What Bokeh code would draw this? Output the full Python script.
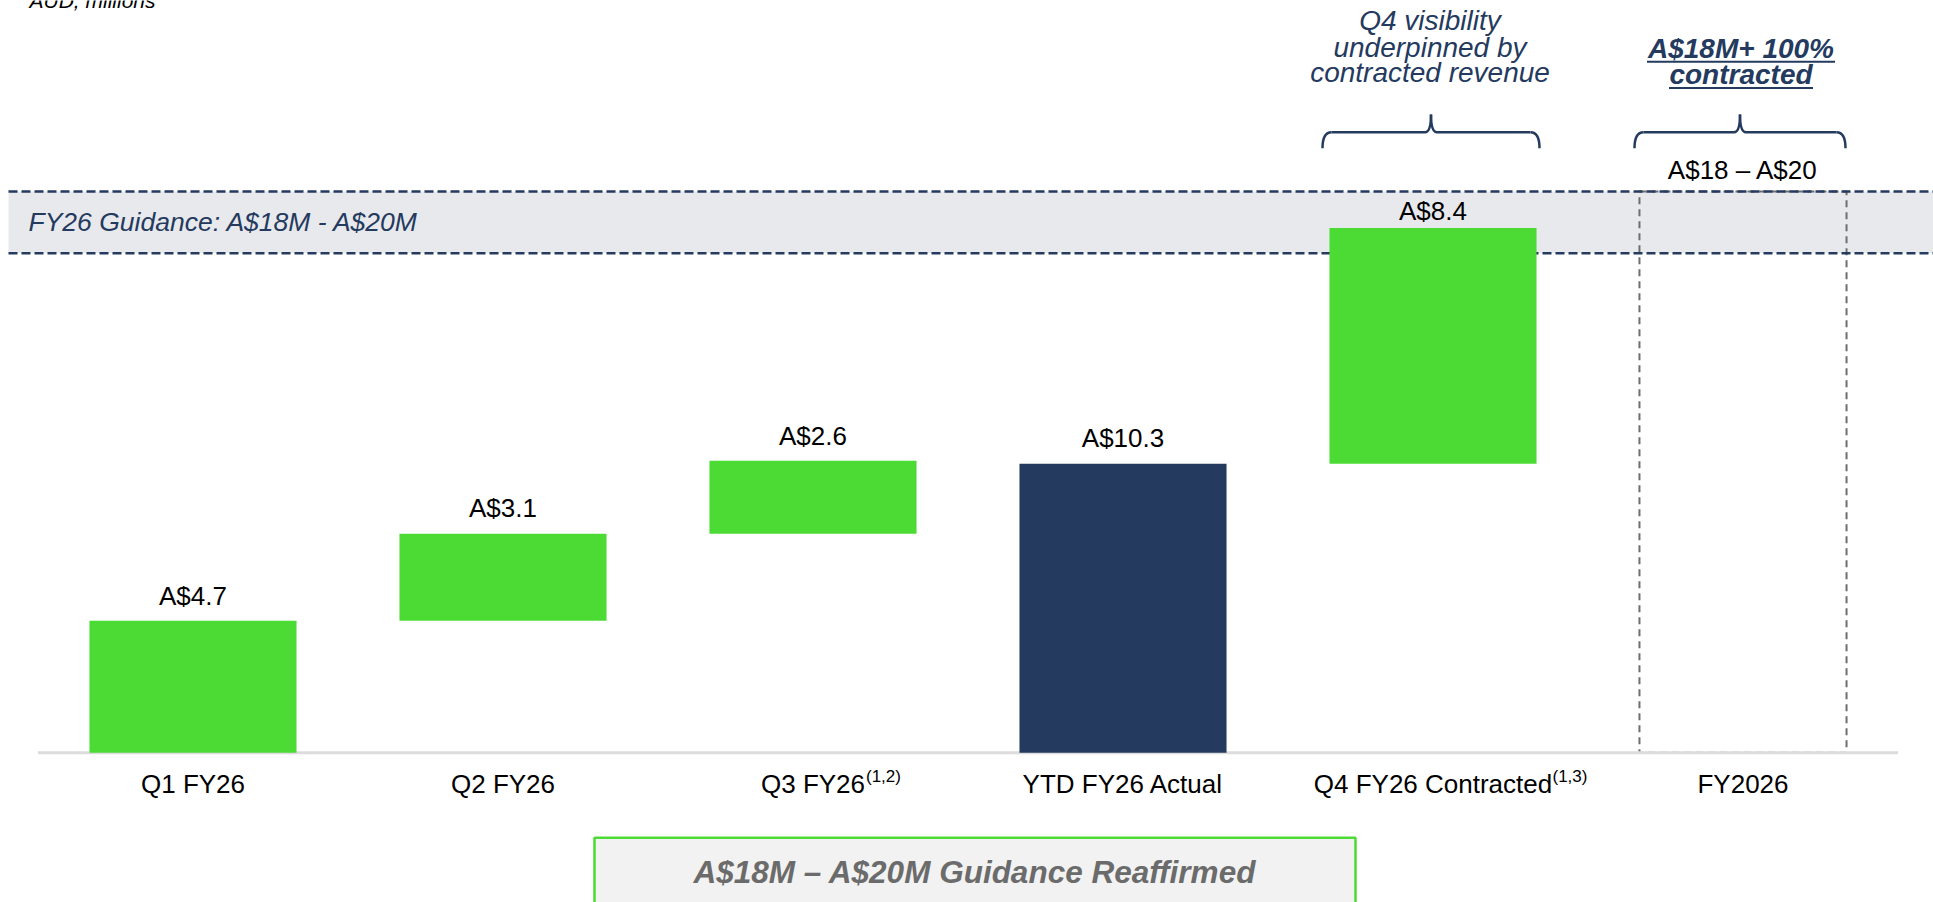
from bokeh.plotting import figure
from bokeh.models import Range1d, ColumnDataSource, BoxAnnotation
from bokeh.core.properties import value
from bokeh.embed import file_html
from bokeh.resources import INLINE

# ---------------- data ----------------
categories = ["Q1 FY26", "Q2 FY26", "Q3 FY26", "YTD FY26 Actual", "Q4 FY26 Contracted", "FY2026"]
footnotes = ["", "", "(1,2)", "", "(1,3)", ""]
quarter_values = [4.7, 3.1, 2.6]          # Q1..Q3 FY26 revenue, A$M
ytd_actual = 10.3                          # YTD FY26 actual, A$M
q4_contracted = 8.4                        # Q4 FY26 contracted, A$M
guidance_low = 18                          # FY26 guidance, A$M
guidance_high = 20
band_bottom = 17.8                         # lower edge of shaded guidance band as drawn
value_labels = ["A$4.7", "A$3.1", "A$2.6", "A$10.3", "A$8.4", "A$18 – A$20"]

# ---------------- layout / style ----------------
FONT = value("Liberation Sans")
NAVY = "#243A5E"
GREEN = "#4CDB34"
W, H = 1933, 902
X_PX = 310.0            # px per category
X0 = 192.5              # px of first category centre
Y_PX = 28.07            # px per A$M
BASE = 752.3            # px of zero line (from top)
BAR_W = 0.668
TXT_CORR = 0.36         # baseline correction (em)
label_pad_px = [16, 16, 16, 16, 8, 12]


def dx(px):
    return px / X_PX


def dy(px):
    return px / Y_PX


def py(page_y):
    return (BASE - page_y) / Y_PX


def ty(page_baseline, size):
    return (BASE - page_baseline + TXT_CORR * size) / Y_PX


def px(page_x):
    return (page_x - X0) / X_PX


p = figure(width=W, height=H, output_backend="svg", toolbar_location=None,
           x_range=Range1d(px(0), px(W)), y_range=Range1d(py(H), py(0)),
           min_border=0, min_border_left=0, min_border_right=0,
           min_border_top=0, min_border_bottom=0)
p.xaxis.visible = False
p.yaxis.visible = False
p.xgrid.visible = False
p.ygrid.visible = False
p.outline_line_color = None
p.background_fill_color = "white"
p.border_fill_color = "white"

n = len(categories)
idx = list(range(n))

# guidance band
p.add_layout(BoxAnnotation(bottom=band_bottom, top=guidance_high, left=px(8),
                           fill_color="#E8E9ED", fill_alpha=1, line_alpha=0, level="underlay"))

# FY2026 dashed guidance column
p.vbar(x=[idx[5]], bottom=[0], top=[guidance_high], width=BAR_W, fill_alpha=0,
       line_color="#6E6E6E", line_width=2, line_dash="7 5")

for loc in (guidance_high, band_bottom):
    p.segment(x0=[px(8)], x1=[px(W)], y0=[loc], y1=[loc], line_color=NAVY, line_width=2.5,
              line_dash="9 4")

# zero line
p.line(x=[-0.5, n - 0.5], y=[0, 0], line_color="#DCDCDC", line_width=3)

# waterfall bars
bottoms, tops, colors = [], [], []
run = 0.0
for v in quarter_values:
    bottoms.append(run)
    run += v
    tops.append(run)
    colors.append(GREEN)
bottoms.append(0.0); tops.append(ytd_actual); colors.append(NAVY)
bottoms.append(ytd_actual); tops.append(ytd_actual + q4_contracted); colors.append(GREEN)
src = ColumnDataSource(dict(x=idx[:5], bottom=bottoms, top=tops, color=colors))
p.vbar(x="x", bottom="bottom", top="top", width=BAR_W, fill_color="color",
       line_color=None, source=src)

# value labels
label_tops = tops + [guidance_high]
p.text(x=idx, y=[t + dy(pad + TXT_CORR * 26) for t, pad in zip(label_tops, label_pad_px)],
       text=value_labels, text_font=FONT, text_font_size="26px", text_align="center",
       text_baseline="alphabetic", text_color="black")

# category labels
p.text(x=idx, y=[ty(792.7, 26)] * n, text=categories, text_font=FONT, text_font_size="26px",
       text_align="center", text_baseline="alphabetic", text_color="black")
# footnote superscripts (placed just after the centred label text)
half_widths_px = [52.0, 52.0, 53.0, 101.3, 119.5, 44.0]
fx, fy, ft = [], [], []
for i, f in enumerate(footnotes):
    if f:
        fx.append(i + dx(half_widths_px[i]))
        fy.append(ty(782.0, 17))
        ft.append(f)
p.text(x=fx, y=fy, text=ft, text_font=FONT, text_font_size="17px", text_align="left",
       text_baseline="alphabetic", text_color="black")

# guidance band caption
p.text(x=[px(28)], y=[ty(230.7, 26.5)], text=["FY26 Guidance: A$18M - A$20M"],
       text_font=FONT, text_font_size="26.5px", text_font_style="italic",
       text_align="left", text_baseline="alphabetic", text_color=NAVY)

# units caption (cut off by the top of the slide)
p.text(x=[px(29)], y=[ty(8.0, 21)], text=["AUD, millions"],
       text_font=FONT, text_font_size="21px", text_font_style="italic",
       text_align="left", text_baseline="alphabetic", text_color="black")


# braces
def brace(cx, half_w):
    y_tip = py(147.7)
    y_mid = py(131.7)
    y_top = py(114.0)
    r = dx(9)
    r2 = dx(6)
    L, R = cx - half_w, cx + half_w
    p.quadratic(x0=[L, R], y0=[y_tip, y_tip], x1=[L + r, R - r], y1=[y_mid, y_mid],
                cx=[L, R], cy=[y_mid, y_mid], line_color=NAVY, line_width=2.5)
    p.segment(x0=[L + r, cx + r2], y0=[y_mid, y_mid], x1=[cx - r2, R - r], y1=[y_mid, y_mid],
              line_color=NAVY, line_width=2.5)
    p.quadratic(x0=[cx - r2, cx + r2], y0=[y_mid, y_mid], x1=[cx, cx], y1=[y_top, y_top],
                cx=[cx, cx], cy=[y_mid, y_mid], line_color=NAVY, line_width=2.5)


brace(idx[4] - dx(2), dx(108.5))
brace(idx[5] - dx(3), dx(105.5))

# brace captions
q4_lines = ["Q4 visibility", "underpinned by", "contracted revenue"]
q4_base = [30.0, 56.7, 81.7]
p.text(x=[idx[4] - dx(3)] * 3, y=[ty(b, 28) for b in q4_base], text=q4_lines,
       text_font=FONT, text_font_size="28px", text_font_style="italic",
       text_align="center", text_baseline="alphabetic", text_color=NAVY)

fy_lines = ["A$18M+ 100%", "contracted"]
fy_base = [58.3, 84.5]
fy_widths = [188.0, 144.0]
fy_x = idx[5] - dx(2)
p.text(x=[fy_x] * 2, y=[ty(b, 28) for b in fy_base], text=fy_lines,
       text_font=FONT, text_font_size="28px", text_font_style="bold italic",
       text_align="center", text_baseline="alphabetic", text_color=NAVY)
p.segment(x0=[fy_x - dx(w / 2) for w in fy_widths], x1=[fy_x + dx(w / 2) for w in fy_widths],
          y0=[py(b + 3) for b in fy_base], y1=[py(b + 3) for b in fy_base],
          line_color=NAVY, line_width=2)

# bottom callout box
box_l, box_r, box_t = px(594), px(1355), py(837.3)
p.quad(left=[box_l], right=[box_r], top=[box_t], bottom=[py(H + 20)],
       fill_color="#F2F2F2", line_color=GREEN, line_width=2.5)
p.text(x=[(box_l + box_r) / 2], y=[ty(883.3, 31.5)], text=["A$18M – A$20M Guidance Reaffirmed"],
       text_font=FONT, text_font_size="31.5px", text_font_style="bold italic",
       text_align="center", text_baseline="alphabetic", text_color="#6B6B6B")

open("out.html", "w").write(file_html(p, INLINE))
